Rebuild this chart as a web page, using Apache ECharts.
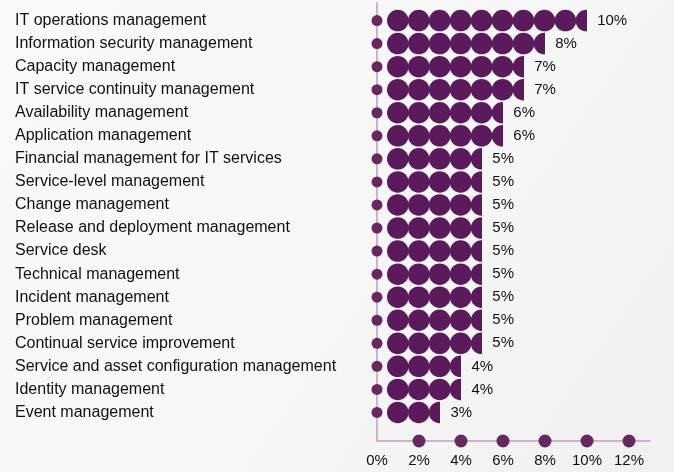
<!DOCTYPE html>
<html><head><meta charset="utf-8">
<script src="https://cdn.jsdelivr.net/npm/echarts@6/dist/echarts.min.js"></script>
<style>html,body{margin:0;padding:0;}#c{width:674px;height:472px;}</style>
</head><body><div id="c"></div>
<script>
var categories = ["IT operations management","Information security management","Capacity management","IT service continuity management","Availability management","Application management","Financial management for IT services","Service-level management","Change management","Release and deployment management","Service desk","Technical management","Incident management","Problem management","Continual service improvement","Service and asset configuration management","Identity management","Event management"];
var values = [10,8,7,7,6,6,5,5,5,5,5,5,5,5,5,4,4,3];
var tickValues = [2,4,6,8,10,12];

var purple = '#5a1a5c';
var dotPurple = '#65295f';
var lineColor = '#cfb3cd';
var font = '"Liberation Sans", Arial, sans-serif';

var chart = echarts.init(document.getElementById('c'));
chart.setOption({
  backgroundColor: {type:'linear', x:0, y:0, x2:1, y2:1, colorStops:[{offset:0,color:'#f9f9f9'},{offset:0.5,color:'#f7f7f7'},{offset:1,color:'#f0f0f0'}]},
  animation: false,
  grid: [
    {left: 377, right: 24, top: 9, bottom: 48},
    {left: 377, right: 24, top: 3, bottom: 31}
  ],
  xAxis: [
    {gridIndex: 0, type: 'value', min: 0, max: 13, show: false},
    {gridIndex: 1, type: 'value', min: 0, max: 13, interval: 2,
      axisLine: {show: true, lineStyle: {color: lineColor, width: 2}},
      axisTick: {show: false}, splitLine: {show: false},
      axisLabel: {margin: 12, color: '#111', fontFamily: font, fontSize: 15,
        formatter: function(v){ return (v % 2 === 0) ? v + '%' : ''; }}}
  ],
  yAxis: [
    {gridIndex: 0, type: 'category', data: categories, inverse: true,
      axisLine: {show: false}, axisTick: {show: false},
      axisLabel: {align: 'left', margin: 362, color: '#111', fontFamily: font, fontSize: 16}},
    {gridIndex: 1, type: 'value', min: 0, max: 1,
      axisLine: {show: true, lineStyle: {color: lineColor, width: 2}},
      axisTick: {show: false}, axisLabel: {show: false}, splitLine: {show: false}}
  ],
  series: [
    {type: 'pictorialBar', xAxisIndex: 0, yAxisIndex: 0,
      data: values, symbol: 'circle', symbolRepeat: true, symbolClip: true,
      symbolSize: [21.5, 21.5], symbolMargin: 0, symbolOffset: [10, 0],
      itemStyle: {color: purple},
      label: {show: true, position: 'right', distance: 0, color: '#111', fontFamily: font, fontSize: 15,
        formatter: function(p){ return p.value + '%'; }},
      z: 3},
    {type: 'scatter', xAxisIndex: 0, yAxisIndex: 0,
      data: categories.map(function(c){ return [0, c]; }),
      symbol: 'circle', symbolSize: 11, itemStyle: {color: dotPurple, opacity: 1}, z: 4, silent: true},
    {type: 'scatter', xAxisIndex: 1, yAxisIndex: 1,
      data: tickValues.map(function(v){ return [v, 0]; }),
      symbol: 'circle', symbolSize: 13, clip: false, itemStyle: {color: dotPurple, opacity: 1}, z: 4, silent: true}
  ]
});
</script></body></html>
